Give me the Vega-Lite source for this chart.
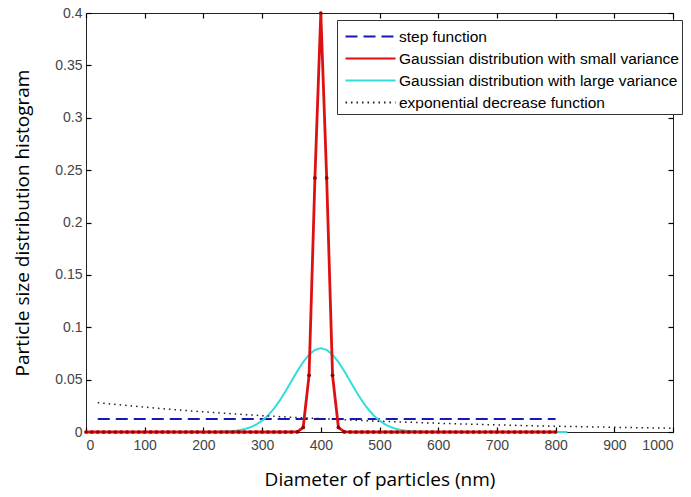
{
  "$schema": "https://vega.github.io/schema/vega-lite/v6.json",
  "autosize": "none",
  "width": 587,
  "height": 419,
  "padding": {"left": 86, "top": 13, "right": 18, "bottom": 65},
  "background": "white",
  "config": {
    "view": {"stroke": "#222", "strokeWidth": 1},
    "axis": {
      "grid": false,
      "domain": false,
      "labelFont": "Liberation Sans",
      "labelFontSize": 14,
      "labelColor": "#444",
      "tickColor": "#000",
      "tickWidth": 1.2,
      "tickSize": 5,
      "offset": -5,
      "titleFont": "Open Sans",
      "titleFontSize": 19,
      "titleFontWeight": "normal",
      "titleColor": "#000"
    },
    "legend": {
      "orient": "none",
      "legendX": 251,
      "legendY": 7,
      "strokeColor": "#333",
      "fillColor": "white",
      "padding": 3,
      "symbolType": "M-2,0H2",
      "symbolSize": 625,
      "symbolOffset": 17,
      "symbolStrokeWidth": 2,
      "labelFont": "Liberation Sans",
      "labelFontSize": 15.5,
      "labelColor": "#000",
      "labelOffset": 15,
      "rowPadding": -3,
      "labelLimit": 400
    }
  },
  "datasets": {
    "step": [{"x": 20, "y": 0.0125}, {"x": 800, "y": 0.0125}],
    "red": [
      {"x": 0, "y": 0}, {"x": 10, "y": 0}, {"x": 20, "y": 0}, {"x": 30, "y": 0}, {"x": 40, "y": 0}, {"x": 50, "y": 0}, {"x": 60, "y": 0}, {"x": 70, "y": 0}, {"x": 80, "y": 0}, {"x": 90, "y": 0},
      {"x": 100, "y": 0}, {"x": 110, "y": 0}, {"x": 120, "y": 0}, {"x": 130, "y": 0}, {"x": 140, "y": 0}, {"x": 150, "y": 0}, {"x": 160, "y": 0}, {"x": 170, "y": 0}, {"x": 180, "y": 0}, {"x": 190, "y": 0},
      {"x": 200, "y": 0}, {"x": 210, "y": 0}, {"x": 220, "y": 0}, {"x": 230, "y": 0}, {"x": 240, "y": 0}, {"x": 250, "y": 0}, {"x": 260, "y": 0}, {"x": 270, "y": 0}, {"x": 280, "y": 0}, {"x": 290, "y": 0},
      {"x": 300, "y": 0}, {"x": 310, "y": 0}, {"x": 320, "y": 0}, {"x": 330, "y": 0}, {"x": 340, "y": 0}, {"x": 350, "y": 0}, {"x": 360, "y": 0.0001}, {"x": 370, "y": 0.0044}, {"x": 380, "y": 0.0541}, {"x": 390, "y": 0.2426},
      {"x": 400, "y": 0.4}, {"x": 410, "y": 0.2426}, {"x": 420, "y": 0.0541}, {"x": 430, "y": 0.0044}, {"x": 440, "y": 0.0001}, {"x": 450, "y": 0}, {"x": 460, "y": 0}, {"x": 470, "y": 0}, {"x": 480, "y": 0}, {"x": 490, "y": 0},
      {"x": 500, "y": 0}, {"x": 510, "y": 0}, {"x": 520, "y": 0}, {"x": 530, "y": 0}, {"x": 540, "y": 0}, {"x": 550, "y": 0}, {"x": 560, "y": 0}, {"x": 570, "y": 0}, {"x": 580, "y": 0}, {"x": 590, "y": 0},
      {"x": 600, "y": 0}, {"x": 610, "y": 0}, {"x": 620, "y": 0}, {"x": 630, "y": 0}, {"x": 640, "y": 0}, {"x": 650, "y": 0}, {"x": 660, "y": 0}, {"x": 670, "y": 0}, {"x": 680, "y": 0}, {"x": 690, "y": 0},
      {"x": 700, "y": 0}, {"x": 710, "y": 0}, {"x": 720, "y": 0}, {"x": 730, "y": 0}, {"x": 740, "y": 0}, {"x": 750, "y": 0}, {"x": 760, "y": 0}, {"x": 770, "y": 0}, {"x": 780, "y": 0}, {"x": 790, "y": 0},
      {"x": 800, "y": 0}
    ],
    "cyan": [
      {"x": 20, "y": 0}, {"x": 60, "y": 0}, {"x": 100, "y": 0}, {"x": 140, "y": 0}, {"x": 180, "y": 0}, {"x": 220, "y": 0},
      {"x": 230, "y": 0.0003}, {"x": 240, "y": 0.0005}, {"x": 250, "y": 0.0009}, {"x": 260, "y": 0.0016}, {"x": 270, "y": 0.0027}, {"x": 280, "y": 0.0045}, {"x": 290, "y": 0.0071},
      {"x": 300, "y": 0.0108}, {"x": 310, "y": 0.0158}, {"x": 320, "y": 0.0222}, {"x": 330, "y": 0.03}, {"x": 340, "y": 0.0389}, {"x": 350, "y": 0.0485}, {"x": 360, "y": 0.0581}, {"x": 370, "y": 0.0668}, {"x": 380, "y": 0.0738}, {"x": 390, "y": 0.0784},
      {"x": 400, "y": 0.08}, {"x": 410, "y": 0.0784}, {"x": 420, "y": 0.0738}, {"x": 430, "y": 0.0668}, {"x": 440, "y": 0.0581}, {"x": 450, "y": 0.0485}, {"x": 460, "y": 0.0389}, {"x": 470, "y": 0.03}, {"x": 480, "y": 0.0222}, {"x": 490, "y": 0.0158},
      {"x": 500, "y": 0.0108}, {"x": 510, "y": 0.0071}, {"x": 520, "y": 0.0045}, {"x": 530, "y": 0.0027}, {"x": 540, "y": 0.0016}, {"x": 550, "y": 0.0009}, {"x": 560, "y": 0.0005}, {"x": 570, "y": 0.0003},
      {"x": 580, "y": 0}, {"x": 620, "y": 0}, {"x": 660, "y": 0}, {"x": 700, "y": 0}, {"x": 740, "y": 0}, {"x": 780, "y": 0}, {"x": 820, "y": 0}
    ],
    "expo": [
      {"x": 20, "y": 0.028}, {"x": 60, "y": 0.0258}, {"x": 100, "y": 0.0237}, {"x": 140, "y": 0.0218}, {"x": 180, "y": 0.0201}, {"x": 220, "y": 0.0185}, {"x": 260, "y": 0.017},
      {"x": 300, "y": 0.0156}, {"x": 340, "y": 0.0144}, {"x": 380, "y": 0.0132}, {"x": 420, "y": 0.0122}, {"x": 460, "y": 0.0112}, {"x": 500, "y": 0.0103}, {"x": 540, "y": 0.0095},
      {"x": 580, "y": 0.0087}, {"x": 620, "y": 0.008}, {"x": 660, "y": 0.0074}, {"x": 700, "y": 0.0068}, {"x": 740, "y": 0.0062}, {"x": 780, "y": 0.0057}, {"x": 820, "y": 0.0053},
      {"x": 860, "y": 0.0049}, {"x": 900, "y": 0.0045}, {"x": 940, "y": 0.0041}, {"x": 980, "y": 0.0038}, {"x": 1000, "y": 0.0036}
    ]
  },
  "layer": [
    {
      "encoding": {
        "x": {
          "field": "x", "type": "quantitative",
          "scale": {"domain": [0, 1000], "nice": false},
          "axis": {"values": [0, 100, 200, 300, 400, 500, 600, 700, 800, 900, 1000], "format": "d", "labelPadding": 6, "title": "Diameter of particles (nm)", "titlePadding": 18}
        },
        "y": {
          "field": "y", "type": "quantitative",
          "scale": {"domain": [0, 0.4], "nice": false},
          "axis": {"values": [0, 0.05, 0.1, 0.15, 0.2, 0.25, 0.3, 0.35, 0.4], "format": "~g", "labelPadding": 4, "title": "Particle size distribution histogram", "titlePadding": 22}
        }
      },
      "layer": [
        {
          "data": {"name": "step"},
          "mark": {"type": "line", "strokeWidth": 2},
          "encoding": {
            "color": {"datum": "step function", "type": "nominal", "scale": {"domain": ["step function", "Gaussian distribution with small variance", "Gaussian distribution with large variance", "exponential decrease function"], "range": ["#1818b4", "#dd1111", "#33dddd", "#222222"]}, "legend": {"title": null}},
            "strokeDash": {"datum": "step function", "type": "nominal", "scale": {"domain": ["step function", "Gaussian distribution with small variance", "Gaussian distribution with large variance", "exponential decrease function"], "range": [[12, 6], [1, 0], [1, 0], [1.5, 4]]}, "legend": {"title": null}}
          }
        },
        {
          "data": {"name": "cyan"},
          "mark": {"type": "line", "strokeWidth": 2},
          "encoding": {
            "color": {"datum": "Gaussian distribution with large variance", "type": "nominal"},
            "strokeDash": {"datum": "Gaussian distribution with large variance", "type": "nominal"}
          }
        },
        {
          "data": {"name": "red"},
          "mark": {"type": "line", "strokeWidth": 2.8},
          "encoding": {
            "color": {"datum": "Gaussian distribution with small variance", "type": "nominal"},
            "strokeDash": {"datum": "Gaussian distribution with small variance", "type": "nominal"}
          }
        },
        {
          "data": {"name": "expo"},
          "mark": {"type": "line", "strokeWidth": 1.5},
          "encoding": {
            "color": {"datum": "exponential decrease function", "type": "nominal"},
            "strokeDash": {"datum": "exponential decrease function", "type": "nominal"}
          }
        }
      ]
    },
    {
      "data": {"name": "red"},
      "mark": {"type": "point", "filled": true, "size": 14, "color": "#9a0000", "opacity": 1},
      "encoding": {
        "x": {"field": "x", "type": "quantitative", "axis": {"orient": "top", "values": [0, 100, 200, 300, 400, 500, 600, 700, 800, 900, 1000], "labels": false, "title": null}},
        "y": {"field": "y", "type": "quantitative", "axis": {"orient": "right", "values": [0, 0.05, 0.1, 0.15, 0.2, 0.25, 0.3, 0.35, 0.4], "labels": false, "title": null}}
      }
    }
  ],
  "resolve": {"axis": {"x": "independent", "y": "independent"}}
}
